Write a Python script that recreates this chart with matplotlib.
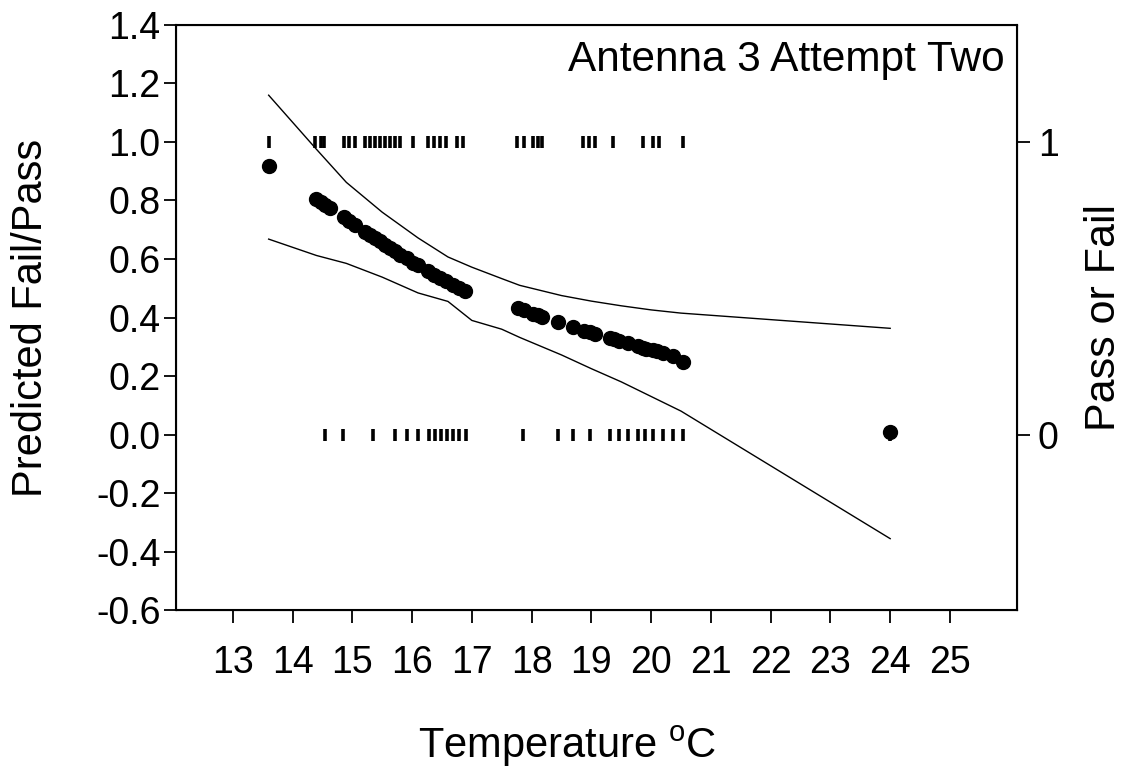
import matplotlib
matplotlib.use("Agg")
import matplotlib.pyplot as plt

plt.rcParams['font.family'] = ['Liberation Sans', 'DejaVu Sans']
plt.rcParams['mathtext.fontset'] = 'custom'
plt.rcParams['mathtext.rm'] = 'Liberation Sans'
plt.rcParams['mathtext.default'] = 'regular'

# Observed outcomes (right axis): 1 = pass, 0 = fail
pass_temp = [13.6, 14.38, 14.47, 14.53, 14.86, 14.95, 15.05, 15.22, 15.3, 15.38,
             15.46, 15.55, 15.63, 15.72, 15.8, 16.02, 16.27, 16.37, 16.47, 16.57,
             16.75, 16.85, 17.75, 17.87, 18.03, 18.1, 18.17, 18.86, 18.96, 19.06,
             19.36, 19.86, 20.03, 20.13, 20.53]
fail_temp = [14.55, 14.85, 15.35, 15.71, 15.91, 16.1, 16.28, 16.38, 16.48, 16.58,
             16.68, 16.78, 16.9, 17.86, 18.44, 18.69, 18.97, 19.31, 19.47, 19.61,
             19.78, 19.9, 20.03, 20.2, 20.36, 20.53, 24.0]

# Predicted probability at each observed temperature (left axis)
pred_temp = [13.6, 14.4, 14.47, 14.55, 14.63, 14.86, 14.95, 15.05, 15.22, 15.3,
             15.38, 15.46, 15.55, 15.63, 15.72, 15.8, 15.91, 16.02, 16.1, 16.27,
             16.37, 16.47, 16.57, 16.68, 16.78, 16.88, 17.77, 17.87, 18.03, 18.1,
             18.17, 18.44, 18.69, 18.88, 18.97, 19.06, 19.31, 19.38, 19.47, 19.61,
             19.78, 19.86, 19.92, 20.03, 20.1, 20.2, 20.36, 20.53, 24.0]
pred_val = [0.918, 0.805, 0.795, 0.786, 0.776, 0.742, 0.73, 0.717, 0.693, 0.682,
            0.671, 0.66, 0.648, 0.637, 0.626, 0.615, 0.602, 0.588, 0.578, 0.558,
            0.546, 0.535, 0.524, 0.512, 0.501, 0.49, 0.433, 0.425, 0.412, 0.407,
            0.402, 0.384, 0.367, 0.355, 0.349, 0.344, 0.33, 0.325, 0.32, 0.312,
            0.302, 0.297, 0.294, 0.288, 0.284, 0.278, 0.27, 0.247, 0.008]

# 95% confidence band
band_temp = [13.6, 14.4, 14.9, 15.5, 16.1, 16.6, 17.0, 17.5, 17.8, 18.5, 19.0,
             19.5, 20.0, 20.5, 24.0]
band_upper = [1.16, 0.975, 0.862, 0.76, 0.672, 0.607, 0.572, 0.533, 0.51, 0.475,
              0.456, 0.44, 0.426, 0.415, 0.363]
band_lower = [0.668, 0.612, 0.585, 0.538, 0.484, 0.455, 0.39, 0.36, 0.332, 0.272,
              0.225, 0.18, 0.13, 0.08, -0.356]

x_ticks = list(range(13, 26))
y_ticks = [-0.6, -0.4, -0.2, 0.0, 0.2, 0.4, 0.6, 0.8, 1.0, 1.2, 1.4]

fig = plt.figure(figsize=(11.32, 7.76), dpi=100)
ax = fig.add_axes([0.1555, 0.2139, 0.7428, 0.7539])

ax.plot(band_temp, band_upper, color='black', lw=1.0)
ax.plot(band_temp, band_lower, color='black', lw=1.0)
ax.plot(pred_temp, pred_val, linestyle='none', marker='o', ms=10, color='black', zorder=4)

ax.set_xlim(12.05, 26.12)
ax.set_ylim(-0.6, 1.4)
ax.set_xticks(x_ticks)
ax.set_yticks(y_ticks)
ax.set_yticklabels([f"{v:.1f}" for v in y_ticks])
ax.tick_params(axis='both', direction='out', length=9, width=1.3, labelsize=27, pad=2, color='black')
ax.tick_params(axis='x', pad=16)
for s in ax.spines.values():
    s.set_linewidth(1.5)
ax.set_xlabel('Temperature $^{o}$C', fontsize=30)
ax.xaxis.set_label_coords(0.465, -0.195)
ax.set_ylabel('Predicted Fail/Pass', fontsize=30, va='center')
ax.yaxis.set_label_coords(-0.172, 0.5)
ax.text(0.985, 0.975, 'Antenna 3 Attempt Two', transform=ax.transAxes, ha='right', va='top', fontsize=30.5)

ax2 = ax.twinx()
ax2.set_ylim(-0.6, 1.4)
ax2.plot(pass_temp, [1] * len(pass_temp), linestyle='none', marker='|', ms=8, mew=2.6, color='black')
ax2.plot(fail_temp, [0] * len(fail_temp), linestyle='none', marker='|', ms=8, mew=2.6, color='black')
ax2.set_yticks([0, 1])
ax2.set_yticklabels(['0', '1'])
ax2.tick_params(axis='y', direction='out', length=9, width=1.3, labelsize=27, pad=6)
ax2.set_ylabel('Pass or Fail', fontsize=31, va='center')
ax2.yaxis.set_label_coords(1.104, 0.5)
ax.set_zorder(ax2.get_zorder() + 1)
ax.patch.set_visible(False)

fig.savefig('out.png', dpi=100)
